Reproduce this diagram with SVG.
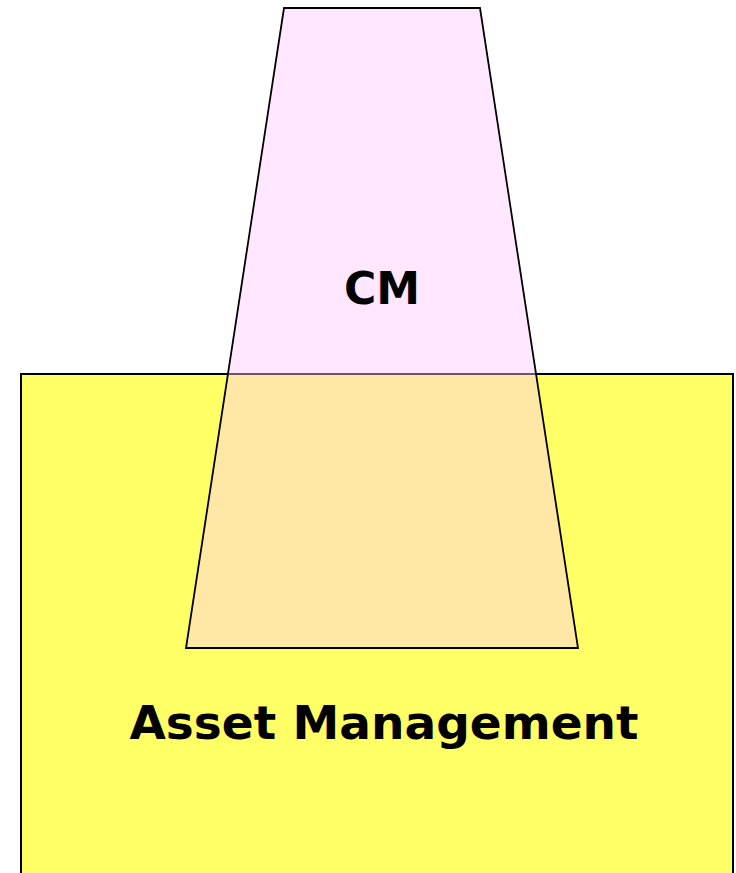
<svg xmlns="http://www.w3.org/2000/svg" width="736" height="873" viewBox="0 0 736 873">
<style>
.lbl{font-family:"DejaVu Sans","Liberation Sans",sans-serif;font-weight:bold;fill:#000;text-anchor:middle}
</style>
<rect width="736" height="873" fill="#fff"/>
<g id="asset-management">
<rect x="21" y="374" width="712" height="520" fill="#FFFF66" stroke="#000" stroke-width="2"/>
<text class="lbl" x="384" y="739" font-size="47">Asset Management</text>
</g>
<g id="cm">
<polygon points="284,8 480,8 578,648 186,648" fill="#FFC8FF" fill-opacity="0.42" stroke="#000" stroke-width="1.8"/>
<text class="lbl" x="382" y="304" font-size="44">CM</text>
</g>
</svg>
